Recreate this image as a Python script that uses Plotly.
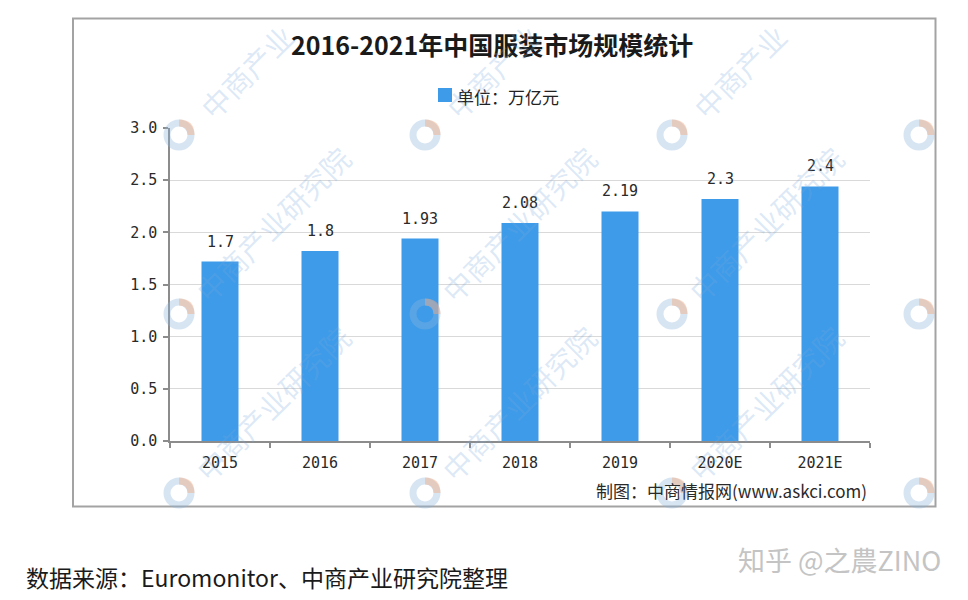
import plotly.graph_objects as go

# ---------------- data ----------------
categories = ["2015", "2016", "2017", "2018", "2019", "2020E", "2021E"]
values = [1.72, 1.82, 1.94, 2.09, 2.20, 2.32, 2.44]
value_labels = ["1.7", "1.8", "1.93", "2.08", "2.19", "2.3", "2.4"]
y_ticks = [0.0, 0.5, 1.0, 1.5, 2.0, 2.5, 3.0]
series_name = "单位：万亿元"
title_text = "2016-2021年中国服装市场规模统计"
credit_text = "制图：中商情报网(www.askci.com)"
source_text = "数据来源：Euromonitor、中商产业研究院整理"
brand_text = "知乎 @之農ZINO"
watermark_text = "中商产业研究院"

# ---------------- layout geometry (pixels) ----------------
W, H = 968, 600
L, R, T, B = 170, 98, 128, 159
PW, PH = W - L - R, H - T - B


def px(x):
    return (x - L) / PW


def py(y):
    return (H - B - y) / PH


BAR = "#3d9be9"
NUMFONT = "DejaVu Sans Mono"
CJK = "Noto Sans CJK SC"

fig = go.Figure()
fig.add_trace(go.Bar(
    x=categories, y=values, name=series_name,
    marker=dict(color=BAR, line=dict(width=0)),
    width=0.37, showlegend=False,
))

annotations = []
# data labels (category axis: position by index)
for i, (v, t) in enumerate(zip(values, value_labels)):
    annotations.append(dict(
        x=i, y=v, xref="x", yref="y", text=t, showarrow=False,
        yanchor="middle", yshift=20,
        font=dict(family=NUMFONT, size=15, color="#2a2a2a"),
    ))

# title
annotations.append(dict(
    x=px(492), y=py(44), xref="paper", yref="paper", text="<b>" + title_text + "</b>",
    showarrow=False, xanchor="center", yanchor="middle",
    font=dict(family=CJK, size=25, color="#1a1a1a"),
))
# legend text
annotations.append(dict(
    x=px(455), y=py(96), xref="paper", yref="paper", text=series_name,
    showarrow=False, xanchor="left", yanchor="middle",
    font=dict(family=CJK, size=17, color="#222222"),
))
# credit
annotations.append(dict(
    x=px(869), y=py(490), xref="paper", yref="paper", text=credit_text,
    showarrow=False, xanchor="right", yanchor="middle",
    font=dict(family=CJK, size=17, color="#2a2a2a"),
))
# source line
annotations.append(dict(
    x=px(24), y=py(577), xref="paper", yref="paper", text=source_text,
    showarrow=False, xanchor="left", yanchor="middle",
    font=dict(family=CJK, size=23, color="#1a1a1a"),
))
# brand
annotations.append(dict(
    x=px(943), y=py(559), xref="paper", yref="paper", text=brand_text,
    showarrow=False, xanchor="right", yanchor="middle",
    font=dict(family=CJK, size=27, color="#c4c4c4"),
))

shapes = []
# frame
shapes.append(dict(type="rect", xref="paper", yref="paper",
                   x0=px(73), x1=px(935.5), y0=py(506.5), y1=py(18.5),
                   line=dict(color="#a3a3a3", width=2), fillcolor="rgba(0,0,0,0)",
                   layer="below"))
# legend swatch
shapes.append(dict(type="rect", xref="paper", yref="paper",
                   x0=px(438), x1=px(452), y0=py(102), y1=py(88),
                   line=dict(width=0), fillcolor=BAR))

# watermarks (faint, decorative)
logo_cols = [179, 425, 672, 919]
logo_rows = [135, 314, 493]
for ly in logo_rows:
    for lx in logo_cols:
        shapes.append(dict(type="circle", xref="paper", yref="paper",
                           x0=px(lx - 12), x1=px(lx + 12), y0=py(ly + 12), y1=py(ly - 12),
                           line=dict(color="rgba(140,180,220,0.35)", width=7),
                           fillcolor="rgba(0,0,0,0)", layer="above"))
        shapes.append(dict(type="path", xref="paper", yref="paper",
                           path="M %f,%f Q %f,%f %f,%f" % (
                               px(lx), py(ly - 12), px(lx + 12), py(ly - 12), px(lx + 12), py(ly)),
                           line=dict(color="rgba(245,170,130,0.45)", width=7), layer="above"))
        if lx == 919:
            continue
        if ly == 135:
            txt, shift = watermark_text[:4], -26
        else:
            txt, shift = watermark_text, 0
        annotations.append(dict(
            x=px(lx + 93 + shift), y=py(ly - 90 - shift), xref="paper", yref="paper",
            text=txt, showarrow=False, textangle=-45,
            xanchor="center", yanchor="middle",
            font=dict(family=CJK, size=29, color="rgba(120,170,220,0.26)"),
        ))

fig.update_layout(
    width=W, height=H,
    margin=dict(l=L, r=R, t=T, b=B, pad=0),
    paper_bgcolor="white", plot_bgcolor="white",
    showlegend=False,
    annotations=annotations,
    shapes=shapes,
    xaxis=dict(
        type="category", range=[-0.5, 6.5],
        showline=True, linecolor="#8c8c8c", linewidth=1.5,
        ticks="outside", tickson="boundaries", ticklen=5, tickcolor="#8c8c8c", tickwidth=1.5,
        showgrid=False, ticklabelstandoff=7,
        tickfont=dict(family=NUMFONT, size=15, color="#2a2a2a"),
    ),
    yaxis=dict(
        range=[0, 3], tickvals=y_ticks, tickformat=".1f",
        showline=True, linecolor="#8c8c8c", linewidth=1.5,
        ticks="outside", ticklen=5, tickcolor="#8c8c8c", tickwidth=1.5,
        showgrid=True, gridcolor="#d9d9d9", gridwidth=1,
        zeroline=False, ticklabelstandoff=3,
        tickfont=dict(family=NUMFONT, size=15, color="#2a2a2a"),
    ),
)

fig.write_html("out.html")
